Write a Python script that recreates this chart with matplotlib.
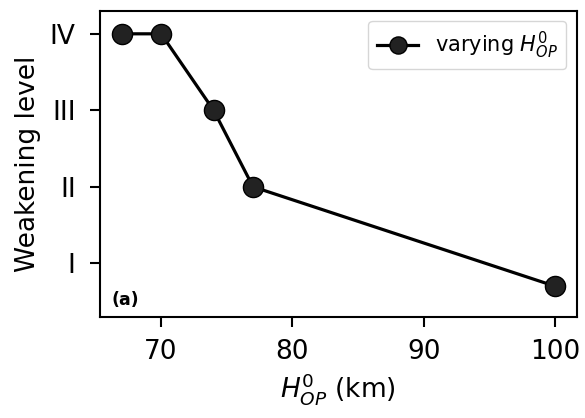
import matplotlib
matplotlib.use('Agg')
import matplotlib.pyplot as plt

# Data
h_op = [67, 70, 74, 77, 100]
nivel = [4, 4, 3, 2, 0.7]
rotulos_y = ['I', 'II', 'III', 'IV']
ticks_y = [1, 2, 3, 4]

fig = plt.figure(figsize=(5.85, 4.18), dpi=100)
ax = fig.add_axes([0.171, 0.242, 0.815, 0.732])

ax.plot(h_op, nivel, color='black', linewidth=2.3, marker='o', markersize=14.5,
        markerfacecolor='#222222', markeredgecolor='black', label='varying $H_{OP}^0$')

ax.set_yticks(ticks_y)
ax.set_yticklabels(rotulos_y)
ax.set_ylim(0.3, 4.3)
ax.set_xticks([70, 80, 90, 100])
ax.tick_params(labelsize=19, width=1.5, length=7.5)
ax.tick_params(axis='x', pad=8.5)
ax.tick_params(axis='y', pad=10)
for s in ax.spines.values():
    s.set_linewidth(1.5)

ax.set_xlabel('$H_{OP}^0$ (km)', fontsize=19)
ax.set_ylabel('Weakening level', fontsize=19, labelpad=6.5)
ax.text(0.025, 0.04, '(a)', transform=ax.transAxes, fontsize=12.5, fontweight='bold')
ax.legend(loc='upper right', fontsize=15, markerscale=0.85)

fig.savefig('out.png', dpi=100)
